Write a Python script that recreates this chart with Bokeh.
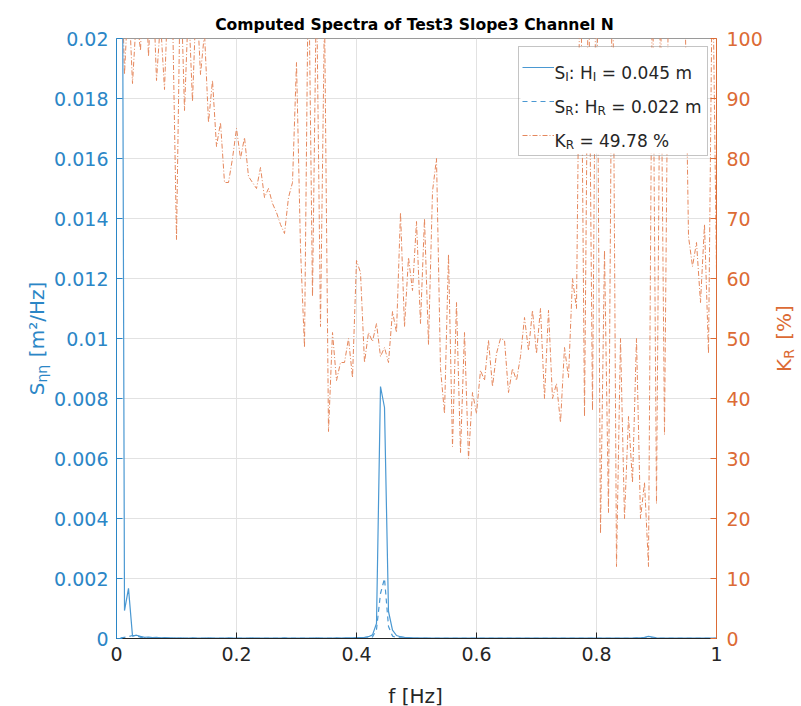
import numpy as np
from bokeh.plotting import figure
from bokeh.models import (Range1d, LinearAxis, Label, Legend, LegendItem,
                          FixedTicker, BoxAnnotation)
from bokeh.embed import file_html
from bokeh.resources import INLINE
from bokeh.core.properties import value

# ---------------- data ----------------
n_bins = 150
freq = np.arange(1, n_bins + 1) / n_bins   # frequency bins [Hz]

S_I = [0.045, 0.00093, 0.00167, 0.00008, 0.00011, 0.00007, 0.00004, 0.00005, 0.00003, 0.00004,
       0.00002, 0.00003, 0.00002, 0.00002, 0.00001, 0.00002, 0.00001, 0.00001, 0.00002, 0.00001,
       0.00001, 0.00001, 0.00002, 0.00001, 0.00001, 0.00001, 0.00001, 0.00002, 0.00001, 0.00001,
       0.00001, 0.00001, 0.00001, 0.00002, 0.00001, 0.00001, 0.00001, 0.00001, 0.00001, 0.00001,
       0.00001, 0.00002, 0.00001, 0.00001, 0.00001, 0.00001, 0.00001, 0.00001, 0.00001, 0.00002,
       0.00001, 0.00001, 0.00001, 0.00001, 0.00002, 0.00001, 0.00002, 0.00002, 0.00002, 0.00003,
       0.00003, 0.00004, 0.00006, 0.00012, 0.0005, 0.0084, 0.0077, 0.0009, 0.00028, 0.0001,
       0.00006, 0.00004, 0.00003, 0.00002, 0.00002, 0.00001, 0.00002, 0.00001, 0.00001, 0.00001,
       0.00001, 0.00001, 0.00001, 0.00001, 0.00001, 0.00001, 0.00001, 0.00001, 0.00001, 0.00001,
       0.00001, 0.00001, 0.00001, 0.00001, 0.00001, 0.00001, 0.00001, 0.00001, 0.00001, 0.00001,
       0.00001, 0.00001, 0.00001, 0.00001, 0.00001, 0.00001, 0.00001, 0.00001, 0.00001, 0.00001,
       0.00001, 0.00001, 0.00001, 0.00001, 0.00001, 0.00001, 0.00001, 0.00001, 0.00001, 0.00001,
       0.00001, 0.00001, 0.00001, 0.00001, 0.00001, 0.00001, 0.00001, 0.00001, 0.00001, 0.00002,
       0.00002, 0.00004, 0.00007, 0.00005, 0.00002, 0.00001, 0.00001, 0.00001, 0.00001, 0.00001,
       0.00001, 0.00001, 0.00001, 0.00001, 0.00001, 0.00001, 0.00001, 0.00001, 0.00001, 0.00001]

S_R = [0.00002, 0.00004, 0.00006, 0.0001, 0.00009, 0.00004, 0.00002, 0.00002, 0.00001, 0.00001,
       0.00001, 0.00001, 0.00001, 0.000005, 0.000005, 0.000005, 0.000005, 0.000005, 0.000005, 0.000005,
       0.000005, 0.000005, 0.000005, 0.000005, 0.000005, 0.000005, 0.000005, 0.000005, 0.000005, 0.000005,
       0.000005, 0.000005, 0.000005, 0.000005, 0.000005, 0.000005, 0.000005, 0.000005, 0.000005, 0.000005,
       0.000005, 0.000005, 0.000005, 0.000005, 0.000005, 0.000005, 0.000005, 0.000005, 0.000005, 0.000005,
       0.000005, 0.000005, 0.000005, 0.000005, 0.000005, 0.000005, 0.000005, 0.000005, 0.000005, 0.00001,
       0.00001, 0.00001, 0.00002, 0.00005, 0.0003, 0.0015, 0.0020, 0.0004, 0.00008, 0.00003,
       0.00002, 0.00001, 0.00001, 0.000005, 0.000005, 0.000005, 0.000005, 0.000005, 0.000005, 0.000005,
       0.000005, 0.000005, 0.000005, 0.000005, 0.000005, 0.000005, 0.000005, 0.000005, 0.000005, 0.000005,
       0.000005, 0.000005, 0.000005, 0.000005, 0.000005, 0.000005, 0.000005, 0.000005, 0.000005, 0.000005,
       0.000005, 0.000005, 0.000005, 0.000005, 0.000005, 0.000005, 0.000005, 0.000005, 0.000005, 0.000005,
       0.000005, 0.000005, 0.000005, 0.000005, 0.000005, 0.000005, 0.000005, 0.000005, 0.000005, 0.000005,
       0.000005, 0.000005, 0.000005, 0.000005, 0.000005, 0.000005, 0.000005, 0.000005, 0.000005, 0.00001,
       0.00001, 0.00002, 0.00003, 0.00002, 0.00001, 0.000005, 0.000005, 0.000005, 0.000005, 0.000005,
       0.000005, 0.000005, 0.000005, 0.000005, 0.000005, 0.000005, 0.000005, 0.000005, 0.000005, 0.000005]

K_R = [120, 94, 108, 92.5, 104, 98, 115, 97, 112, 93,
       103, 91.5, 110, 105, 66.5, 112, 88, 106, 89.5, 108,
       94, 101, 86, 93, 82, 86, 76, 76, 80, 85,
       80, 83.5, 77, 76, 75, 78.5, 73.5, 75, 72.5, 71,
       69, 67.5, 73.5, 76, 96, 65, 48.5, 115, 57, 110,
       52, 105, 34.5, 51, 43, 46, 46, 50, 43.5, 63,
       61, 46, 51, 49.5, 52.5, 47, 48.5, 46, 54.5, 51,
       71, 52, 63.5, 58, 69.5, 52.5, 70, 49, 74.5, 80,
       45, 37.5, 64, 32, 56, 31, 51, 30, 41, 37.5,
       44.7, 43, 49.7, 42, 47.5, 50, 49.7, 41, 45, 43,
       47, 53.5, 48, 54.7, 47.5, 55, 40, 54.7, 40, 42.5,
       36, 48.5, 43.5, 60, 55, 120, 37, 115, 38, 125,
       17.5, 64.7, 21, 120, 12, 50, 20, 37, 26, 50,
       20, 26, 12, 115, 22.5, 110, 34, 110, 105, 118,
       108, 112, 67, 62, 66, 56, 69, 47.5, 115, 61]

title_text = "Computed Spectra of Test3 Slope3 Channel N"
x_label_text = "f [Hz]"
x_ticks = [0, 0.2, 0.4, 0.6, 0.8, 1.0]
x_tick_labels = ["0", "0.2", "0.4", "0.6", "0.8", "1"]
yl_ticks = [0, 0.002, 0.004, 0.006, 0.008, 0.01, 0.012, 0.014, 0.016, 0.018, 0.02]
yl_tick_labels = ["0", "0.002", "0.004", "0.006", "0.008", "0.01", "0.012", "0.014",
                  "0.016", "0.018", "0.02"]
yr_ticks = [0, 10, 20, 30, 40, 50, 60, 70, 80, 90, 100]
yr_tick_labels = ["0", "10", "20", "30", "40", "50", "60", "70", "80", "90", "100"]
H_I_text = " = 0.045 m"
H_R_text = " = 0.022 m"
K_R_text = " = 49.78 %"

# ---------------- style ----------------
W, H = 801, 706
FL, FR, FT, FB = 116, 716, 38, 638
FONT = "DejaVu Sans"
BLUE = "#2b86c6"
BLUE_LINE = "#4a98d2"
ORANGE = "#dc6b35"
ORANGE_LINE = "#e5875c"
DARK = "#262626"
GRID = "#e2e2e2"
NB = "\u00a0"

p = figure(width=W, height=H, output_backend="svg", toolbar_location=None,
           x_range=Range1d(0, 1), y_range=Range1d(0, 0.02),
           min_border_left=FL, min_border_right=W - FR,
           min_border_top=FT, min_border_bottom=H - FB)
p.extra_y_ranges = {"kr": Range1d(0, 100)}
p.background_fill_color = "white"
p.border_fill_color = "white"
p.outline_line_color = "#9a9a9a"

# axes
xa = p.xaxis[0]
xa.ticker = FixedTicker(ticks=x_ticks)
xa.major_label_overrides = dict(zip(x_ticks, x_tick_labels))
ya = p.yaxis[0]
ya.ticker = FixedTicker(ticks=yl_ticks)
ya.major_label_overrides = dict(zip(yl_ticks, yl_tick_labels))
yr = LinearAxis(y_range_name="kr", ticker=FixedTicker(ticks=yr_ticks))
yr.major_label_overrides = dict(zip(yr_ticks, yr_tick_labels))
p.add_layout(yr, "right")

for ax, col in ((xa, DARK), (ya, BLUE), (yr, ORANGE)):
    ax.axis_line_color = col
    ax.axis_line_width = 1
    ax.major_tick_line_color = col
    ax.major_tick_in = 6
    ax.major_tick_out = 0
    ax.minor_tick_line_color = None
    ax.major_label_text_color = col
    ax.major_label_text_font = FONT
    ax.major_label_text_font_size = "19px"
    ax.major_label_standoff = 8
yr.major_label_standoff = 10

p.xgrid.grid_line_color = GRID
p.ygrid.grid_line_color = GRID
p.xgrid.ticker = FixedTicker(ticks=x_ticks)
p.ygrid.ticker = FixedTicker(ticks=yl_ticks)

# lines
rK = p.line(freq, K_R, line_color=ORANGE_LINE, line_width=1, line_dash="5 2 1 2",
            y_range_name="kr")
rI = p.line(freq, S_I, line_color=BLUE_LINE, line_width=1.2)
rR = p.line(freq, S_R, line_color=BLUE_LINE, line_width=1.2, line_dash="5 4")


# ------------- text helpers -------------
DV = {' ': 0.318, NB: 0.318, '%': 0.950, '.': 0.318, '/': 0.337, ':': 0.337, '=': 0.838,
      '[': 0.390, ']': 0.390, 'H': 0.752, 'I': 0.295, 'K': 0.656, 'R': 0.695, 'S': 0.635,
      'f': 0.352, 'm': 0.974, 'z': 0.525, 'η': 0.634, '²': 0.401}


def tw(txt, size):
    return sum(DV.get(c, 0.636 if c.isdigit() else 0.6) for c in txt) * size


def fx(px):
    return float((px - FL) / (FR - FL))


def sy(py):
    return float(0.02 * (FB - py) / (FB - FT))


def place(pieces, x0, y0, color, vertical=False):
    """pieces: (text, font px, shift below baseline px, panel)."""
    pos = 0.0
    for txt, size, shift, side in pieces:
        lead = len(txt) - len(txt.lstrip(' '))
        pos += tw(' ' * lead, size)
        txt = txt.lstrip(' ')
        if vertical:
            x, y, ang = x0 + shift, y0 - pos, float(np.pi / 2)
        else:
            x, y, ang = x0 + pos, y0 + shift, 0.0
        lab = Label(x=fx(x), y=sy(y), text=txt, angle=ang, text_align="left",
                    text_baseline="alphabetic", text_font=FONT,
                    text_font_size=f"{size}px", text_color=color)
        if side == "center":
            lab.level = "overlay"
            p.add_layout(lab)
        else:
            p.add_layout(lab, side)
        pos += tw(txt, size)


# legend: white box beneath, transparent Bokeh legend (samples + border) on top
LG_L, LG_R, LG_T, LG_B = 519, 708, 46, 154
p.add_layout(BoxAnnotation(left=fx(LG_L + 1), right=fx(LG_R - 1), top=sy(LG_T + 1),
                           bottom=sy(LG_B - 1), fill_color="white", fill_alpha=1.0,
                           line_color=None, level="annotation"))
legend = Legend(items=[LegendItem(label=value(" "), renderers=[rI]),
                       LegendItem(label=value(" "), renderers=[rR]),
                       LegendItem(label=value(" "), renderers=[rK])],
                location="top_right", margin=8, padding=3, spacing=0,
                glyph_width=32, glyph_height=34, label_height=34, label_width=148,
                label_standoff=2, border_line_color="#8a8a8a", border_line_width=1.2,
                background_fill_alpha=0.0)
p.add_layout(legend)

LS, SS, SH = 17, 12, 4
row_y = [72, 106, 140]
place([("S", LS, 0, "center"), ("I", SS, SH, "center"), (": H", LS, 0, "center"),
       ("I", SS, SH, "center"), (H_I_text, LS, 0, "center")], 554, row_y[0], DARK)
place([("S", LS, 0, "center"), ("R", SS, SH, "center"), (": H", LS, 0, "center"),
       ("R", SS, SH, "center"), (H_R_text, LS, 0, "center")], 554, row_y[1], DARK)
place([("K", LS, 0, "center"), ("R", SS, SH, "center"), (K_R_text, LS, 0, "center")],
      554, row_y[2], DARK)

# axis labels (main text carries no-break gaps where the subscripts sit)
AL, AS, ASH = 20, 14, 5
left_main = "S" + NB * 4 + "[m²/Hz]"
L_len = tw(left_main, AL)
y_left0 = (FT + FB) / 2 + L_len / 2
place([(left_main, AL, 0, "left")], 36, y_left0, BLUE, vertical=True)
place([("ηη", AS, ASH, "above")], 36, y_left0 - tw("S", AL), BLUE, vertical=True)

right_main = "K" + NB * 3 + "[%]"
R_len = tw(right_main, AL)
y_right0 = (FT + FB) / 2 + R_len / 2
place([(right_main, AL, 0, "right")], 783, y_right0, ORANGE, vertical=True)
place([("R", AS, ASH, "left")], 783, y_right0 - tw("K", AL), ORANGE, vertical=True)

p.add_layout(Label(x=fx(415), y=sy(695), text=x_label_text, text_align="center",
                   text_baseline="alphabetic", text_font=FONT, text_font_size="20px",
                   text_color=DARK), "below")

# title
p.add_layout(Label(x=fx(414), y=sy(24), text=title_text, text_align="center",
                   text_baseline="alphabetic", text_font=FONT, text_font_size="15.6px",
                   text_font_style="bold", text_color="black"), "above")

open("out.html", "w").write(file_html(p, INLINE))
